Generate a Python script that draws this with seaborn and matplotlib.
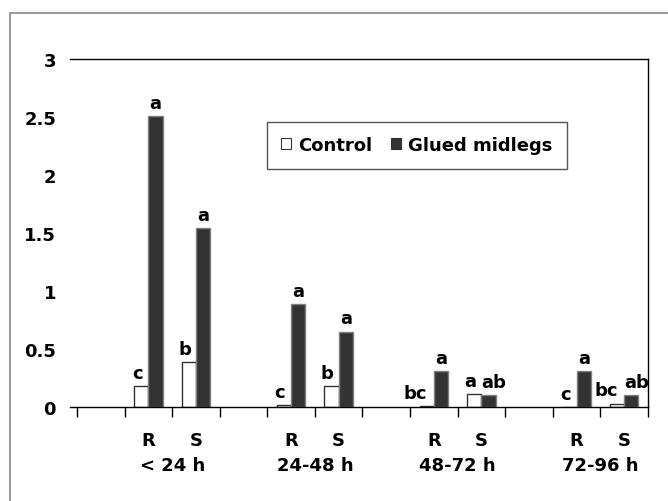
import numpy as np
import pandas as pd
import matplotlib.pyplot as plt
import seaborn as sns
from matplotlib.patches import Patch, Rectangle

periods = ["< 24 h", "24-48 h", "48-72 h", "72-96 h"]
strains = ["R", "S"]
treatments = ["Control", "Glued midlegs"]

control = [0.18, 0.39, 0.02, 0.18, 0.01, 0.11, 0.00, 0.03]
glued = [2.51, 1.54, 0.89, 0.65, 0.31, 0.10, 0.31, 0.10]
control_letters = ["c", "b", "c", "b", "bc", "a", "c", "bc"]
glued_letters = ["a", "a", "a", "a", "a", "ab", "a", "ab"]

yticks = [0, 0.5, 1, 1.5, 2, 2.5, 3]
ytick_labels = ["0", "0.5", "1", "1.5", "2", "2.5", "3"]


def main():
    # one empty slot before each R/S pair, like the original spacing
    order = []
    slot_labels = []
    for p in periods:
        order.append(p + "|gap")
        slot_labels.append("")
        for s in strains:
            order.append(p + "|" + s)
            slot_labels.append(s)

    rows = []
    i = 0
    for p in periods:
        for s in strains:
            rows.append((p + "|" + s, treatments[0], control[i], control_letters[i]))
            rows.append((p + "|" + s, treatments[1], glued[i], glued_letters[i]))
            i += 1
    df = pd.DataFrame(rows, columns=["slot", "treatment", "value", "letter"])

    sns.set_style("white")
    plt.rcParams["font.family"] = ["DejaVu Sans"]
    plt.rcParams["font.weight"] = "bold"
    for key in ["text.color", "xtick.color", "ytick.color", "axes.labelcolor"]:
        plt.rcParams[key] = "black"

    fig = plt.figure(figsize=(6.68, 5.02), dpi=100)
    ax = fig.add_axes([70 / 668, 1 - 408 / 502, 578 / 668, 348 / 502])

    # outer chart frame (cut at right and bottom in the original)
    fig.patches.append(Rectangle((10 / 668, -0.1), 1.2, 1 - 14 / 502 + 0.1,
                                 transform=fig.transFigure, fill=False,
                                 edgecolor="#888888", linewidth=1.2))

    sns.barplot(data=df, x="slot", y="value", hue="treatment", order=order,
                hue_order=treatments, palette=["white", "#333333"],
                width=0.6, saturation=1, errorbar=None, legend=False, ax=ax)

    for bar in ax.containers[0]:
        bar.set_edgecolor("#333333")
        bar.set_linewidth(1)
    for bar in ax.containers[1]:
        bar.set_edgecolor("#808080")
        bar.set_linewidth(1)

    # significance letters above each bar, two-letter ones pushed outward
    for _, r in df.iterrows():
        is_ctrl = r["treatment"] == treatments[0]
        xpos = order.index(r["slot"]) + (-0.15 if is_ctrl else 0.15)
        dx = -3 if is_ctrl else 0
        if len(r["letter"]) > 1:
            dx = -8 if is_ctrl else 4
        ax.annotate(r["letter"], (xpos, r["value"]), xytext=(dx, 3),
                    textcoords="offset points", ha="center", va="bottom",
                    fontsize=13, fontweight="bold", color="black")

    ax.set_ylim(0, 3)
    ax.set_xlim(-0.5 - 7 / 47.6, len(order) - 0.5)
    ax.set_yticks(yticks)
    ax.set_yticklabels(ytick_labels, fontsize=13, fontweight="bold")
    ax.tick_params(axis="y", length=0, pad=10)

    ax.set_xticks(np.arange(-0.5, len(order), 1))
    ax.set_xticklabels([])
    ax.tick_params(axis="x", which="major", direction="out", length=7,
                   width=1, color="black", bottom=True)
    ax.set_xticks(np.arange(len(order)), minor=True)
    ax.set_xticklabels(slot_labels, minor=True, fontsize=13, fontweight="bold")
    ax.tick_params(axis="x", which="minor", length=0, pad=17)

    for k, p in enumerate(periods):
        ax.text(3 * k + 1.5, -0.167, p, transform=ax.get_xaxis_transform(),
                ha="center", va="center", fontsize=13, fontweight="bold")

    ax.set_xlabel("")
    ax.set_ylabel("")
    for side in ["top", "right", "bottom"]:
        ax.spines[side].set_visible(True)
        ax.spines[side].set_color("black")
        ax.spines[side].set_linewidth(1)
    ax.spines["left"].set_visible(False)

    handles = [Patch(facecolor="white", edgecolor="#333333", linewidth=0.8),
               Patch(facecolor="#333333", edgecolor="#333333", linewidth=0.8)]
    leg = ax.legend(handles, treatments, ncol=2, loc="upper center",
                    bbox_to_anchor=(0.6, 0.82), borderaxespad=0, frameon=True,
                    fancybox=False, prop={"size": 13, "weight": "bold"},
                    handlelength=0.55, handleheight=0.55, handletextpad=0.4,
                    columnspacing=1.0, borderpad=0.8, edgecolor="#555555",
                    framealpha=1)
    leg.get_frame().set_linewidth(1)

    fig.savefig("out.png", dpi=100)


if __name__ == "__main__":
    main()
